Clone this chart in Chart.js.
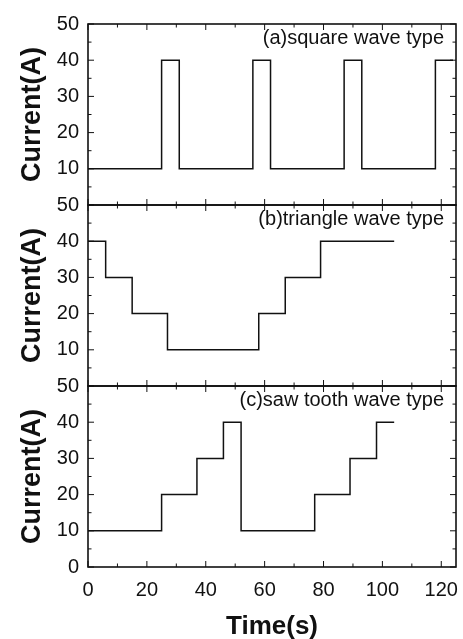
<!DOCTYPE html>
<html>
<head>
<meta charset="utf-8">
<script src="https://cdn.jsdelivr.net/npm/chart.js@4"></script>
<style>
  body { margin: 0; background: #fff; }
  canvas { display: block; }
</style>
</head>
<body>
<canvas id="waveChart" width="463" height="639"></canvas>
<script>
// step change times (s) and current level (A) starting at that time
const squareTime = [0, 25, 31, 56, 62, 87, 93, 118, 124];
const squareCurrent = [10, 40, 10, 40, 10, 40, 10, 40, 40];

const triangleTime = [0, 6, 15, 27, 58, 67, 79, 104];
const triangleCurrent = [40, 30, 20, 10, 20, 30, 40, 40];

const sawTime = [0, 25, 37, 46, 52, 77, 89, 98, 104];
const sawCurrent = [10, 20, 30, 40, 10, 20, 30, 40, 40];

const panelLabels = ["(a)square wave type", "(b)triangle wave type", "(c)saw tooth wave type"];
const xTicks = [0, 20, 40, 60, 80, 100, 120];
const yTicks = [0, 10, 20, 30, 40, 50];

const FONT = "'Liberation Sans', Arial, sans-serif";
const INK = '#111';

function toPoints(times, values) {
    return times.map((t, i) => ({ x: t, y: values[i] }));
}

function makeSet(label, times, values, axis) {
    return {
        label: label,
        data: toPoints(times, values),
        yAxisID: axis,
        stepped: true,
        borderColor: INK,
        borderWidth: 1.5,
        pointRadius: 0,
        fill: false
    };
}

function yScale(hideZero) {
    return {
        type: 'linear',
        position: 'left',
        stack: 'panels',
        stackWeight: 1,
        min: 0,
        max: 50,
        afterBuildTicks: s => { s.ticks = yTicks.map(v => ({ value: v })); },
        afterFit: s => { s.width = 88; },
        grid: { display: false, drawTicks: false },
        border: { display: false },
        ticks: {
            padding: 9,
            color: INK,
            autoSkip: false,
            font: { family: FONT, size: 20 },
            callback: v => (hideZero && v === 0) ? '' : v
        },
        title: {
            display: true,
            text: 'Current(A)',
            color: INK,
            padding: { top: 16, bottom: 0 },
            font: { family: FONT, size: 27, weight: 'bold' }
        }
    };
}

// frame, inward ticks on all sides and panel captions
const framePlugin = {
    id: 'frames',
    afterDatasetsDraw(chart) {
        const ctx = chart.ctx;
        const xs = chart.scales.x;
        const panels = ['yA', 'yB', 'yC'];
        ctx.save();
        ctx.strokeStyle = INK;
        panels.forEach((id, i) => {
            const s = chart.scales[id];
            const left = xs.left, right = xs.right;
            ctx.lineWidth = 1;
            ctx.beginPath();
            for (let v = 0; v <= 50; v += 5) {
                const y = s.getPixelForValue(v);
                const len = v % 10 === 0 ? 6 : 3.5;
                ctx.moveTo(left, y); ctx.lineTo(left + len, y);
                ctx.moveTo(right, y); ctx.lineTo(right - len, y);
            }
            for (let v = 0; v <= 120; v += 10) {
                const x = xs.getPixelForValue(v);
                const len = v % 20 === 0 ? 6 : 3.5;
                ctx.moveTo(x, s.bottom); ctx.lineTo(x, s.bottom - len);
                ctx.moveTo(x, s.top); ctx.lineTo(x, s.top + len);
            }
            ctx.stroke();
            ctx.lineWidth = 1.6;
            ctx.strokeRect(left, s.top, right - left, s.bottom - s.top);

            ctx.fillStyle = INK;
            ctx.font = '20px ' + FONT;
            ctx.textAlign = 'right';
            ctx.textBaseline = 'alphabetic';
            ctx.fillText(panelLabels[i], right - 12, s.top + 20);
        });
        ctx.restore();
    }
};

const ctx = document.getElementById('waveChart').getContext('2d');
new Chart(ctx, {
    type: 'line',
    data: {
        datasets: [
            makeSet(panelLabels[0], squareTime, squareCurrent, 'yA'),
            makeSet(panelLabels[1], triangleTime, triangleCurrent, 'yB'),
            makeSet(panelLabels[2], sawTime, sawCurrent, 'yC')
        ]
    },
    options: {
        responsive: false,
        animation: false,
        layout: { padding: { top: 24, right: 7, left: 0, bottom: 0 } },
        plugins: { legend: { display: false }, tooltip: { enabled: false } },
        scales: {
            x: {
                type: 'linear',
                min: 0,
                max: 125,
                afterBuildTicks: s => { s.ticks = xTicks.map(v => ({ value: v })); },
                afterFit: s => { s.height = 72; s.paddingLeft = 0; s.paddingRight = 0; },
                grid: { display: false, drawTicks: false },
                border: { display: false },
                ticks: {
                    padding: 11,
                    color: INK,
                    maxRotation: 0,
                    autoSkip: false,
                    font: { family: FONT, size: 20 }
                },
                title: {
                    display: true,
                    text: 'Time(s)',
                    color: INK,
                    padding: { top: 0, bottom: -3 },
                    font: { family: FONT, size: 26, weight: 'bold' }
                }
            },
            // stacked panels: the last one listed goes on top
            yC: yScale(false),
            yB: yScale(true),
            yA: yScale(true)
        }
    },
    plugins: [framePlugin]
});
</script>
</body>
</html>
